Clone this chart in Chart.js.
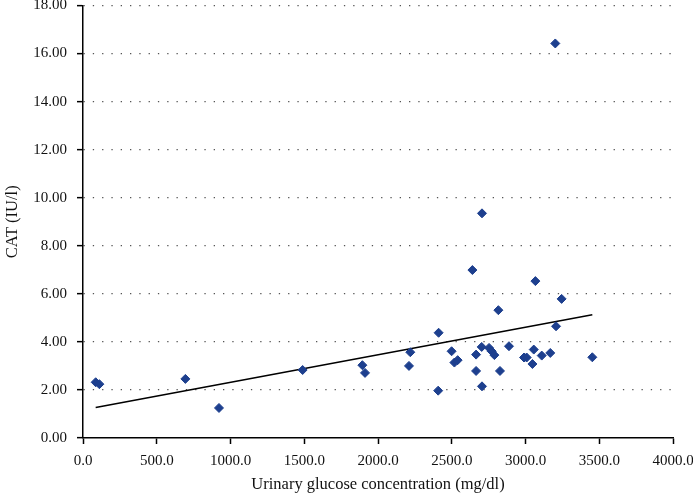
<!DOCTYPE html>
<html>
<head>
<meta charset="utf-8">
<script src="https://cdn.jsdelivr.net/npm/chart.js@4/dist/chart.umd.min.js"></script>
<style>
  html, body { margin: 0; padding: 0; background: #fff; }
  #wrap { width: 693px; height: 496px; }
</style>
</head>
<body>
<div id="wrap"><canvas id="chart" width="693" height="496"></canvas></div>
<script>
// Urinary glucose (mg/dl) vs CAT (IU/l)
var glucose = [86, 111, 694, 922, 1489, 1894, 1912, 2210, 2219, 2408, 2411,
  2499, 2518, 2540, 2640, 2665, 2665, 2703, 2705, 2705, 2753, 2771, 2789,
  2816, 2827, 2888, 2990, 3008, 3047, 3056, 3067, 3110, 3168, 3202, 3207,
  3245, 3453];
var cat = [2.32, 2.24, 2.46, 1.25, 2.83, 3.03, 2.71, 3.00, 3.57, 1.97, 4.38,
  3.61, 3.14, 3.24, 6.99, 3.47, 2.79, 3.79, 9.35, 2.15, 3.75, 3.61, 3.45,
  5.32, 2.79, 3.82, 3.35, 3.35, 3.08, 3.68, 6.53, 3.43, 3.54, 16.42, 4.65,
  5.79, 3.36];

// linear trend line end points
var trendX = [86, 3453];
var trendY = [1.27, 5.13];

var xMin = 0, xMax = 4000, xStep = 500;
var yMin = 0, yMax = 18, yStep = 2;

var serif = "'Liberation Serif', 'DejaVu Serif', serif";

function toPoints(xs, ys) {
  var pts = [];
  for (var i = 0; i < xs.length; i++) pts.push({ x: xs[i], y: ys[i] });
  return pts;
}

var ctx = document.getElementById("chart");

new Chart(ctx, {
  type: "scatter",
  data: {
    datasets: [
      {
        label: "CAT",
        data: toPoints(glucose, cat),
        pointStyle: "rectRot",
        pointRadius: 4.5,
        backgroundColor: "#1d3f8e",
        borderColor: "#1d3f8e",
        borderWidth: 1,
        order: 1
      },
      {
        label: "Trend",
        type: "line",
        data: toPoints(trendX, trendY),
        borderColor: "#000",
        borderWidth: 1.5,
        pointRadius: 0,
        fill: false,
        order: 2
      }
    ]
  },
  options: {
    responsive: false,
    animation: false,
    layout: { padding: { left: 0, right: 20, top: 0, bottom: 0 } },
    plugins: {
      legend: { display: false },
      tooltip: { enabled: false }
    },
    scales: {
      x: {
        type: "linear",
        min: xMin,
        max: xMax,
        ticks: {
          stepSize: xStep,
          color: "#111",
          font: { family: serif, size: 15 },
          padding: 8,
          maxRotation: 0,
          callback: function (v) { return Number(v).toFixed(1); }
        },
        grid: {
          drawOnChartArea: false,
          drawTicks: true,
          tickLength: 6,
          tickColor: "#000",
          tickWidth: 1.5
        },
        border: { color: "#000", width: 1.5 },
        title: {
          display: true,
          text: "Urinary glucose concentration (mg/dl)",
          color: "#111",
          font: { family: serif, size: 16.5 },
          padding: { top: 2, bottom: 1 }
        },
        afterFit: function (scale) {
          scale.height = 58;
          scale.paddingLeft = 0;
          scale.paddingRight = 0;
        }
      },
      y: {
        type: "linear",
        min: yMin,
        max: yMax,
        ticks: {
          stepSize: yStep,
          color: "#111",
          font: { family: serif, size: 15 },
          padding: 10,
          callback: function (v) { return Number(v).toFixed(2); }
        },
        grid: {
          drawOnChartArea: true,
          color: function (c) { return c.tick && c.tick.value === 0 ? "rgba(0,0,0,0)" : "#555"; },
          lineWidth: 1.3,
          tickLength: 6,
          tickColor: "#000",
          tickWidth: 1.5,
          tickBorderDash: []
        },
        border: { color: "#000", width: 1.5, dash: [1.3, 8] },
        title: {
          display: true,
          text: "CAT (IU/l)",
          color: "#111",
          font: { family: serif, size: 16.5 },
          padding: { top: 3, bottom: 2 }
        },
        afterFit: function (scale) {
          scale.width = 83;
          scale.paddingTop = 0;
          scale.paddingBottom = 0;
        }
      }
    }
  }
});
</script>
</body>
</html>
